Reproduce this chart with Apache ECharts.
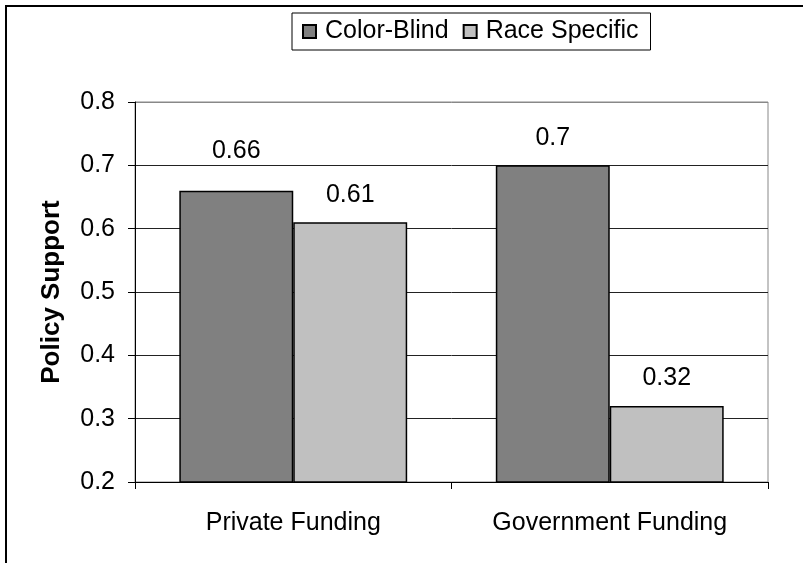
<!DOCTYPE html>
<html>
<head>
<meta charset="utf-8">
<script src="https://cdn.jsdelivr.net/npm/echarts@6/dist/echarts.min.js"></script>
<style>
  html, body { margin: 0; padding: 0; background: #fff; }
  #chart { width: 803px; height: 563px; }
</style>
</head>
<body>
<div id="chart"></div>
<script>
// Policy support by funding source, colour-blind vs race-specific framing
const categories = ['Private Funding', 'Government Funding'];
const colorBlind = [0.66, 0.70];
const raceSpecific = [0.61, 0.32];
const seriesNames = ['Color-Blind', 'Race Specific'];
const yTicks = { min: 0.2, max: 0.8, step: 0.1 };

const FONT = '"Liberation Sans", Arial, sans-serif';

const chart = echarts.init(document.getElementById('chart'), null, { renderer: 'canvas' });

function barItems(values, raisedIndex) {
  return values.map((v, i) => i === raisedIndex
    ? { value: v, label: { distance: 27 } }
    : v);
}

const labelStyle = {
  show: true,
  position: 'top',
  distance: 15,
  color: '#000',
  fontFamily: FONT,
  fontSize: 25,
  formatter: p => String(p.value)
};

chart.setOption({
  animation: false,
  backgroundColor: '#fff',
  graphic: [{
    type: 'rect',
    shape: { x: 6, y: 6, width: 900, height: 700 },
    style: { fill: 'none', stroke: '#000', lineWidth: 2 },
    silent: true,
    z: 100
  }],
  legend: {
    data: seriesNames,
    left: 292,
    top: 13,
    orient: 'horizontal',
    itemWidth: 13,
    itemHeight: 13,
    itemGap: 14,
    padding: [6, 12, 6, 10],
    borderColor: '#000',
    borderWidth: 1,
    icon: 'rect',
    textStyle: { fontFamily: FONT, fontSize: 25, color: '#000', padding: [0, 0, 0, 4] }
  },
  grid: {
    left: 135,
    right: 35,
    top: 102,
    bottom: 81,
    show: true,
    borderColor: '#888',
    borderWidth: 1,
    containLabel: false
  },
  xAxis: {
    type: 'category',
    data: categories,
    axisLine: { show: true, lineStyle: { color: '#000', width: 1 } },
    axisTick: { show: true, length: 7, lineStyle: { color: '#000' } },
    axisLabel: { margin: 29, color: '#000', fontFamily: FONT, fontSize: 25 },
    splitLine: { show: false }
  },
  yAxis: {
    type: 'value',
    min: yTicks.min,
    max: yTicks.max,
    interval: yTicks.step,
    name: 'Policy Support',
    nameLocation: 'middle',
    nameGap: 70,
    nameRotate: 90,
    nameTextStyle: { fontFamily: FONT, fontSize: 26, fontWeight: 'bold', color: '#000' },
    axisLine: { show: true, lineStyle: { color: '#000', width: 1 } },
    axisTick: { show: true, length: 7, lineStyle: { color: '#000' } },
    axisLabel: {
      margin: 20,
      color: '#000',
      fontFamily: FONT,
      fontSize: 25,
      formatter: v => v.toFixed(1)
    },
    splitLine: {
      show: true,
      lineStyle: { color: ['#222', '#222', '#222', '#222', '#222', '#222', '#888'], width: 1 }
    }
  },
  series: [
    {
      name: seriesNames[0],
      type: 'bar',
      data: barItems(colorBlind, 0),
      barGap: '0%',
      barCategoryGap: '28%',
      itemStyle: { color: '#808080', borderColor: '#000', borderWidth: 1.5 },
      label: labelStyle
    },
    {
      name: seriesNames[1],
      type: 'bar',
      data: barItems(raceSpecific, -1),
      barGap: '0%',
      barCategoryGap: '28%',
      itemStyle: { color: '#c0c0c0', borderColor: '#000', borderWidth: 1.5 },
      label: labelStyle
    }
  ]
});
</script>
</body>
</html>
